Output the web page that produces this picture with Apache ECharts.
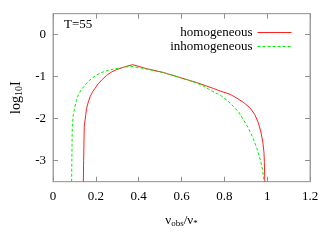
<!DOCTYPE html>
<html><head><meta charset="utf-8">
<script src="https://cdn.jsdelivr.net/npm/echarts@6/dist/echarts.min.js"></script>
<style>html,body{margin:0;padding:0;background:#fff}#c{width:327px;height:245px}</style>
</head><body><div id="c"></div>
<script>
var xTicks = [0, 0.2, 0.4, 0.6, 0.8, 1, 1.2];
var yTicks = [0, -1, -2, -3];
var homX = [0.1417,0.143,0.146,0.153,0.157,0.165,0.173,0.184,0.196,0.211,0.227,0.251,0.274,0.298,0.321,0.345,0.372,0.438,0.515,0.593,0.671,0.749,0.780,0.827,0.858,0.892,0.921,0.942,0.959,0.971,0.980,0.985,0.987,0.989];
var homY = [-3.5,-3.0,-2.18,-1.90,-1.75,-1.60,-1.48,-1.37,-1.28,-1.17,-1.08,-0.965,-0.886,-0.83,-0.79,-0.75,-0.713,-0.81,-0.90,-1.02,-1.14,-1.28,-1.34,-1.42,-1.51,-1.62,-1.75,-1.90,-2.10,-2.32,-2.57,-2.80,-3.04,-3.5];
var inhX = [0.087,0.088,0.090,0.095,0.0995,0.103,0.110,0.118,0.133,0.150,0.165,0.181,0.203,0.227,0.257,0.290,0.330,0.368,0.43,0.515,0.593,0.671,0.705,0.734,0.78,0.81,0.843,0.868,0.889,0.914,0.936,0.953,0.967,0.978,0.986];
var inhY = [-3.5,-3.0,-2.18,-1.90,-1.79,-1.71,-1.56,-1.435,-1.30,-1.2,-1.11,-1.04,-0.96,-0.90,-0.85,-0.81,-0.775,-0.753,-0.81,-0.90,-1.02,-1.15,-1.23,-1.32,-1.435,-1.55,-1.71,-1.85,-2.02,-2.24,-2.49,-2.72,-2.96,-3.2,-3.5];
function pairs(xs, ys){ return xs.map(function(x,i){return [x, ys[i]];}); }
var F = "'Liberation Serif', 'Times New Roman', serif";
var gray = '#a0a0a0';
var chart = echarts.init(document.getElementById('c'));
function xa(pos, show){
  return {type:'value', position:pos, min:0, max:1.2, interval:0.2,
    axisLine:{show:true, onZero:false, lineStyle:{color:gray}},
    axisTick:{show:true, inside:true, length:5, lineStyle:{color:'#909090'}},
    splitLine:{show:false},
    axisLabel:{show:show, margin:8, color:'#000', fontFamily:F, fontSize:13,
      formatter:function(v){ return String(Math.round(v*10)/10); }},
    name: show ? '{a|ν}{s|obs}{a|/ν}{s|*}' : '', nameLocation:'middle', nameGap:31,
    nameTextStyle:{rich:{a:{fontFamily:F,fontSize:13,color:'#000'},s:{fontFamily:F,fontSize:9,color:'#000',padding:[6,0,0,0]}}}
  };
}
function ya(pos, show){
  return {type:'value', position:pos, min:-3.5, max:0.5, interval:0.5,
    axisLine:{show:true, onZero:false, lineStyle:{color:gray}},
    axisTick:{show:true, inside:true, length:5, customValues:yTicks, lineStyle:{color:'#909090'}},
    splitLine:{show:false},
    axisLabel:{show:show, margin:7, color:'#000', fontFamily:F, fontSize:13, customValues:yTicks,
      formatter:function(v){ return String(v); }},
    name: show ? '{a|log}{s|10}{a|I}' : '', nameLocation:'middle', nameGap:29, nameRotate:90,
    nameTextStyle:{rich:{a:{fontFamily:F,fontSize:14,color:'#000'},s:{fontFamily:F,fontSize:10,color:'#000',padding:[6,0,0,0]}}}
  };
}
chart.setOption({
  animation:false,
  grid:{left:53, right:17, top:13.7, bottom:63.3, show:true, borderColor:gray, borderWidth:1},
  xAxis:[xa('bottom', true), xa('top', false)],
  yAxis:[ya('left', true), ya('right', false)],
  legend:{orient:'vertical', right:30, top:21, align:'right', itemWidth:34, itemHeight:14, itemGap:1,
    itemStyle:{opacity:0, borderWidth:0}, lineStyle:{width:1},
    textStyle:{fontFamily:F, fontSize:13, color:'#000'},
    data:['homogeneous','inhomogeneous']},
  graphic:[{type:'text', left:64, top:18, style:{text:'T=55', font:"13px 'Liberation Serif', serif", fill:'#000'}}],
  series:[
    {name:'homogeneous', type:'line', data:pairs(homX, homY), showSymbol:false, symbol:'none',
      lineStyle:{color:'#ff2020', width:1}, itemStyle:{color:'#ff2020'}, clip:true},
    {name:'inhomogeneous', type:'line', data:pairs(inhX, inhY), showSymbol:false, symbol:'none',
      lineStyle:{color:'#00ee00', width:1, type:[3,2]}, itemStyle:{color:'#00ee00'}, clip:true}
  ]
});
</script></body></html>
